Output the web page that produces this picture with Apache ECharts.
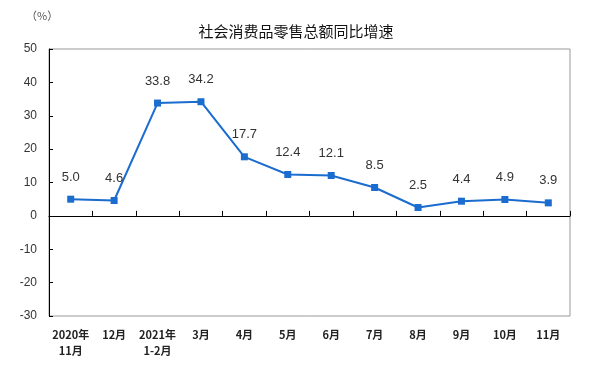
<!DOCTYPE html>
<html><head><meta charset="utf-8">
<script src="https://cdn.jsdelivr.net/npm/echarts@6/dist/echarts.min.js"></script>
<style>html,body{margin:0;padding:0;background:#fff}#c{width:593px;height:367px}</style>
</head><body><div id="c"></div>
<script>
const categories = ['2020年\n11月','12月','2021年\n1-2月','3月','4月','5月','6月','7月','8月','9月','10月','11月'];
const values = [5.0, 4.6, 33.8, 34.2, 17.7, 12.4, 12.1, 8.5, 2.5, 4.4, 4.9, 3.9];
const yTicks = [-30, -20, -10, 0, 10, 20, 30, 40, 50];
const titleText = '社会消费品零售总额同比增速';
const unitText = '（%）';

const chart = echarts.init(document.getElementById('c'), null, {renderer:'canvas'});
const font = '"Noto Sans CJK SC", sans-serif';
chart.setOption({
  animation:false,
  backgroundColor:'#fff',
  title:{text:titleText, left:291, top:19, textAlign:'center',
    textStyle:{fontFamily:font, fontSize:15, fontWeight:'normal', color:'#111'}},
  graphic:[{type:'text', left:26, top:10, style:{text:unitText, fontFamily:font, fontSize:11, fill:'#555'}}],
  grid:{left:49, right:23, top:49, bottom:51, show:true, borderColor:'#999', borderWidth:1},
  xAxis:[{
    type:'category', data:categories, boundaryGap:true,
    axisLine:{onZero:true, lineStyle:{color:'#000', width:1}},
    axisTick:{show:true, inside:true, length:5, interval:0, lineStyle:{color:'#000'}},
    axisLabel:{show:false}
  },{
    type:'category', data:categories, position:'bottom', boundaryGap:true,
    axisLine:{show:false}, axisTick:{show:false},
    axisLabel:{interval:0, fontFamily:font, fontSize:11, fontWeight:'bold', color:'#222', lineHeight:16, margin:11}
  }],
  yAxis:{
    type:'value', min:yTicks[0], max:yTicks[yTicks.length-1], interval:10,
    axisLine:{show:true, lineStyle:{color:'#000'}},
    axisTick:{show:true, inside:true, length:4, lineStyle:{color:'#000'}},
    splitLine:{show:false},
    axisLabel:{fontFamily:'"Liberation Sans", Arial, sans-serif', fontSize:12, color:'#333', margin:12}
  },
  series:[{
    type:'line', data:values, xAxisIndex:0,
    symbol:'rect', symbolSize:7,
    lineStyle:{color:'#1a6ccf', width:2},
    itemStyle:{color:'#1a6ccf'},
    label:{show:true, position:'top', distance:12, formatter:p=>p.value.toFixed(1),
      fontFamily:'"Liberation Sans", Arial, sans-serif', fontSize:13, color:'#333'}
  }]
});
</script></body></html>
